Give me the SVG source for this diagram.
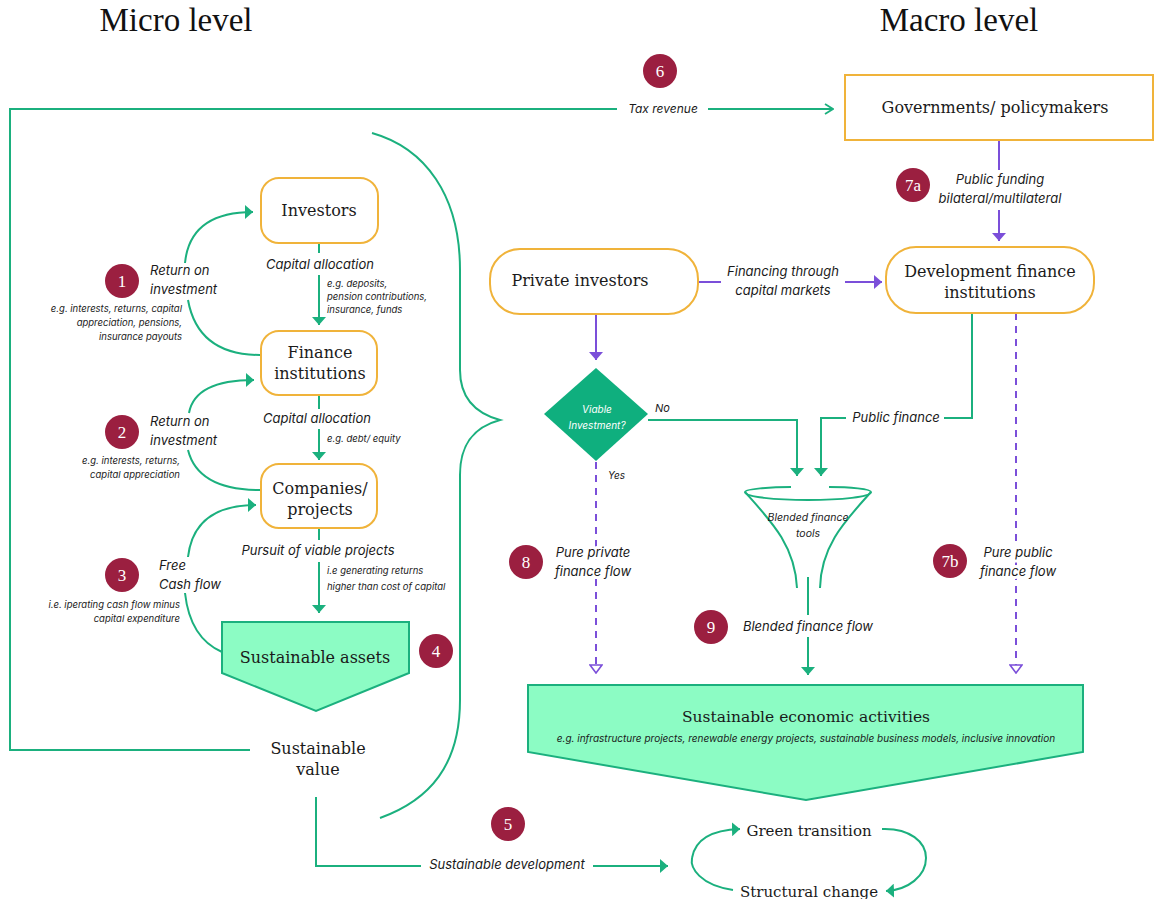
<svg xmlns="http://www.w3.org/2000/svg" width="1160" height="899" viewBox="0 0 1160 899">
<defs>
<style>
.title{font-family:"Liberation Serif","DejaVu Serif",serif;font-size:33px;fill:#111;text-anchor:middle}
.node{font-family:"DejaVu Serif","Liberation Serif",serif;font-size:16px;fill:#1a1a1a;text-anchor:middle}
.lbl{font-family:Inter,"Liberation Sans",sans-serif;font-style:italic;font-size:13px;fill:#1a1a1a}
.halo{paint-order:stroke;stroke:#fff;stroke-width:6px;stroke-linejoin:round}
.note{font-family:Inter,"Liberation Sans",sans-serif;font-style:italic;font-size:9.5px;fill:#1a1a1a}
.badge circle{fill:#9B1F40}
.badge text{font-family:"Liberation Serif","DejaVu Serif",serif;font-size:17px;fill:#fff;text-anchor:middle}
.box{fill:#fff;stroke:#F0B33A;stroke-width:2}
.g{fill:none;stroke:#1BB07E;stroke-width:2}
.p{fill:none;stroke:#7B4FD9;stroke-width:2}
.pd{fill:none;stroke:#7B4FD9;stroke-width:2;stroke-dasharray:7,6}
.shape{fill:#8CFCC4;stroke:#1BB07E;stroke-width:2}
.mid{text-anchor:middle}
.end{text-anchor:end}
</style>
<marker id="ag" viewBox="0 0 8 14" refX="8" refY="7" markerWidth="8" markerHeight="14" markerUnits="userSpaceOnUse" orient="auto"><path d="M0,0 L8,7 L0,14 z" fill="#1BB07E"/></marker>
<marker id="ap" viewBox="0 0 8 14" refX="8" refY="7" markerWidth="8" markerHeight="14" markerUnits="userSpaceOnUse" orient="auto"><path d="M0,0 L8,7 L0,14 z" fill="#7B4FD9"/></marker>
<marker id="aopen" viewBox="0 0 10 12" refX="9" refY="6" markerWidth="10" markerHeight="12" markerUnits="userSpaceOnUse" orient="auto"><path d="M1,1 L9,6 L1,11" fill="none" stroke="#1BB07E" stroke-width="1.8"/></marker>
<marker id="apo" viewBox="0 0 10 14" refX="9" refY="7" markerWidth="10" markerHeight="14" markerUnits="userSpaceOnUse" orient="auto"><path d="M1,1 L9,7 L1,13 z" fill="#fff" stroke="#7B4FD9" stroke-width="1.6"/></marker>
</defs>
<rect width="1160" height="899" fill="#fff"/>

<text class="title" x="176" y="31">Micro level</text>
<text class="title" x="959" y="31">Macro level</text>

<g id="connectors">
  <!-- tax revenue loop -->
  <path class="g" d="M250,750 L10,750 L10,109 L617,109"/>
  <path class="g" d="M708,109 L833,109" marker-end="url(#aopen)"/>
  <text class="lbl" x="663" y="113" style="font-size:12px" text-anchor="middle">Tax revenue</text>

  <!-- micro chain -->
  <path class="g" d="M319,243 L319,253"/>
  <path class="g" d="M319,275 L319,325" marker-end="url(#ag)"/>
  <text class="lbl mid" x="320" y="269">Capital allocation</text>
  <text class="note" x="327" y="287">e.g. deposits,</text>
  <text class="note" x="327" y="300">pension contributions,</text>
  <text class="note" x="327" y="313">insurance, funds</text>

  <path class="g" d="M319,395 L319,409"/>
  <path class="g" d="M319,429 L319,460" marker-end="url(#ag)"/>
  <text class="lbl mid" x="317" y="423">Capital allocation</text>
  <text class="note" x="327" y="442">e.g. debt/ equity</text>

  <path class="g" d="M319,528 L319,540"/>
  <path class="g" d="M319,562 L319,613" marker-end="url(#ag)"/>
  <text class="lbl mid" x="318" y="555">Pursuit of viable projects</text>
  <text class="note" x="327" y="574">i.e generating returns</text>
  <text class="note" x="327" y="590">higher than cost of capital</text>

  <!-- feedback arcs -->
  <path class="g" d="M185,263 Q190,212 253,212" marker-end="url(#ag)"/>
  <path class="g" d="M188,300 Q198,355 260,355"/>
  <text class="lbl" x="150" y="275">Return on</text>
  <text class="lbl" x="150" y="294">investment</text>
  <text class="note end" x="182" y="312">e.g. interests, returns, capital</text>
  <text class="note end" x="182" y="326">appreciation, pensions,</text>
  <text class="note end" x="182" y="340">insurance payouts</text>

  <path class="g" d="M189,413 Q195,380 254,380" marker-end="url(#ag)"/>
  <path class="g" d="M188,450 Q198,490 260,490"/>
  <text class="lbl" x="150" y="426">Return on</text>
  <text class="lbl" x="150" y="445">investment</text>
  <text class="note end" x="180" y="464">e.g. interests, returns,</text>
  <text class="note end" x="180" y="478">capital appreciation</text>

  <path class="g" d="M188,557 Q194,505 256,505" marker-end="url(#ag)"/>
  <path class="g" d="M185,593 Q190,638 222,652"/>
  <text class="lbl" x="159" y="570">Free</text>
  <text class="lbl" x="159" y="589">Cash flow</text>
  <text class="note end" x="180" y="608">i.e. iperating cash flow minus</text>
  <text class="note end" x="180" y="622">capital expenditure</text>

  <!-- brace -->
  <path class="g" d="M372,133 C425,148 460,195 460,270 L460,370 C460,400 478,414 500,420 C478,426 460,440 460,475 L460,700 C460,765 430,800 380,818"/>

  <!-- sustainable development -->
  <path class="g" d="M316,797 L316,866 L421,866"/>
  <path class="g" d="M593,866 L668,866" marker-end="url(#ag)"/>
  <text class="lbl mid" x="507" y="869">Sustainable development</text>

  <!-- macro: governments to DFI -->
  <path class="p" d="M999,140 L999,170"/>
  <path class="p" d="M999,210 L999,241" marker-end="url(#ap)"/>
  <text class="lbl mid" x="1000" y="184">Public funding</text>
  <text class="lbl mid" x="1000" y="203">bilateral/multilateral</text>

  <!-- private investors to DFI -->
  <path class="p" d="M698,282 L721,282"/>
  <path class="p" d="M845,282 L882,282" marker-end="url(#ap)"/>
  <text class="lbl mid" x="783" y="276">Financing through</text>
  <text class="lbl mid" x="783" y="295">capital markets</text>

  <!-- private investors to diamond -->
  <path class="p" d="M596,314 L596,360" marker-end="url(#ap)"/>

  <!-- No branch -->
  <path class="g" d="M648,420 L797,420 L797,476" marker-end="url(#ag)"/>
  <text class="lbl" x="655" y="412" style="font-size:11px">No</text>

  <!-- public finance -->
  <path class="g" d="M972,313 L972,418 L944,418"/>
  <path class="g" d="M846,418 L821,418 L821,476" marker-end="url(#ag)"/>
  <text class="lbl mid" x="896" y="422">Public finance</text>

  <!-- Yes / pure private -->
  <text class="lbl" x="608" y="479" style="font-size:10px">Yes</text>
  <path class="pd" d="M596,462 L596,673" marker-end="url(#apo)"/>
  <text class="lbl mid halo" x="593" y="557">Pure private</text>
  <text class="lbl mid halo" x="593" y="576">finance flow</text>

  <!-- pure public -->
  <path class="pd" d="M1016,313 L1016,673" marker-end="url(#apo)"/>
  <text class="lbl mid halo" x="1018" y="557">Pure public</text>
  <text class="lbl mid halo" x="1018" y="576">finance flow</text>

  <!-- blended flow -->
  <path class="g" d="M808,577 L808,615"/>
  <path class="g" d="M808,637 L808,675" marker-end="url(#ag)"/>
  <text class="lbl mid" x="808" y="631">Blended finance flow</text>

  <!-- green transition loop -->
  <path class="g" d="M733,890 C700,885 690,868 692,858 C695,840 710,830 740,829" marker-end="url(#ag)"/>
  <path class="g" d="M882,829 C910,828 926,842 926,858 C926,876 908,890 886,891" marker-end="url(#ag)"/>
</g>

<g id="investors"><rect class="box" x="261" y="178" width="117" height="65" rx="18"/><text class="node" x="319" y="216">Investors</text></g>
<g id="finance-institutions"><rect class="box" x="261" y="331" width="116" height="64" rx="18"/><text class="node" x="320" y="358">Finance</text><text class="node" x="320" y="379">institutions</text></g>
<g id="companies"><rect class="box" x="261" y="464" width="116" height="64" rx="18"/><text class="node" x="320" y="494">Companies/</text><text class="node" x="320" y="515">projects</text></g>
<g id="sustainable-assets"><path class="shape" d="M222,622 L409,622 L409,673 L316,711 L222,673 Z"/><text class="node" x="315" y="663">Sustainable assets</text></g>
<g id="sustainable-value"><text class="node" x="318" y="754">Sustainable</text><text class="node" x="318" y="775">value</text></g>

<g id="governments"><rect class="box" x="845" y="75" width="308" height="65"/><text class="node" x="995" y="113">Governments/ policymakers</text></g>
<g id="private-investors"><rect class="box" x="490" y="249" width="208" height="65" rx="30"/><text class="node" x="580" y="286">Private investors</text></g>
<g id="dfi"><rect class="box" x="886" y="247" width="208" height="66" rx="30"/><text class="node" x="990" y="277">Development finance</text><text class="node" x="990" y="298">institutions</text></g>
<g id="viable"><path d="M596,368 L648,414 L596,461 L544,414 Z" fill="#0FAF7E"/><text class="lbl mid" x="597" y="413" style="font-size:10px;fill:#fff">Viable</text><text class="lbl mid" x="597" y="429" style="font-size:10px;fill:#fff">Investment?</text></g>
<g id="funnel">
  <path class="g" d="M791,487 C770,487 745,489 745,492 C745,497 775,500 808,500 C841,500 871,497 871,492 C871,489 850,487 829,487"/>
  <path class="g" d="M745,492 C770,520 795,545 797,588"/>
  <path class="g" d="M871,492 C846,520 821,545 820,588"/>
  <text class="lbl mid" x="808" y="521" style="font-size:10.5px">Blended finance</text>
  <text class="lbl mid" x="808" y="537" style="font-size:10.5px">tools</text>
</g>
<g id="sustainable-economic"><path class="shape" d="M528,685 L1083,685 L1083,752 L806,800 L528,752 Z"/><text class="node" x="806" y="722" style="font-size:15.5px">Sustainable economic activities</text><text class="note mid" x="806" y="742" style="font-size:10px">e.g. infrastructure projects, renewable energy projects, sustainable business models, inclusive innovation</text></g>
<g id="green-transition"><text class="node" x="809" y="836" style="font-size:15px">Green transition</text></g>
<g id="structural-change"><text class="node" x="809" y="897" style="font-size:15px">Structural change</text></g>

<g id="badges">
  <g class="badge"><circle cx="122" cy="281" r="17"/><text x="122" y="287">1</text></g>
  <g class="badge"><circle cx="122" cy="432" r="17"/><text x="122" y="438">2</text></g>
  <g class="badge"><circle cx="122" cy="575" r="17"/><text x="122" y="581">3</text></g>
  <g class="badge"><circle cx="436" cy="651" r="17"/><text x="436" y="657">4</text></g>
  <g class="badge"><circle cx="508" cy="824" r="17"/><text x="508" y="830">5</text></g>
  <g class="badge"><circle cx="660" cy="71" r="17"/><text x="660" y="77">6</text></g>
  <g class="badge"><circle cx="913" cy="185" r="17"/><text x="913" y="191">7a</text></g>
  <g class="badge"><circle cx="950" cy="561" r="17"/><text x="950" y="567">7b</text></g>
  <g class="badge"><circle cx="526" cy="562" r="17"/><text x="526" y="568">8</text></g>
  <g class="badge"><circle cx="711" cy="627" r="17"/><text x="711" y="633">9</text></g>
</g>
</svg>
